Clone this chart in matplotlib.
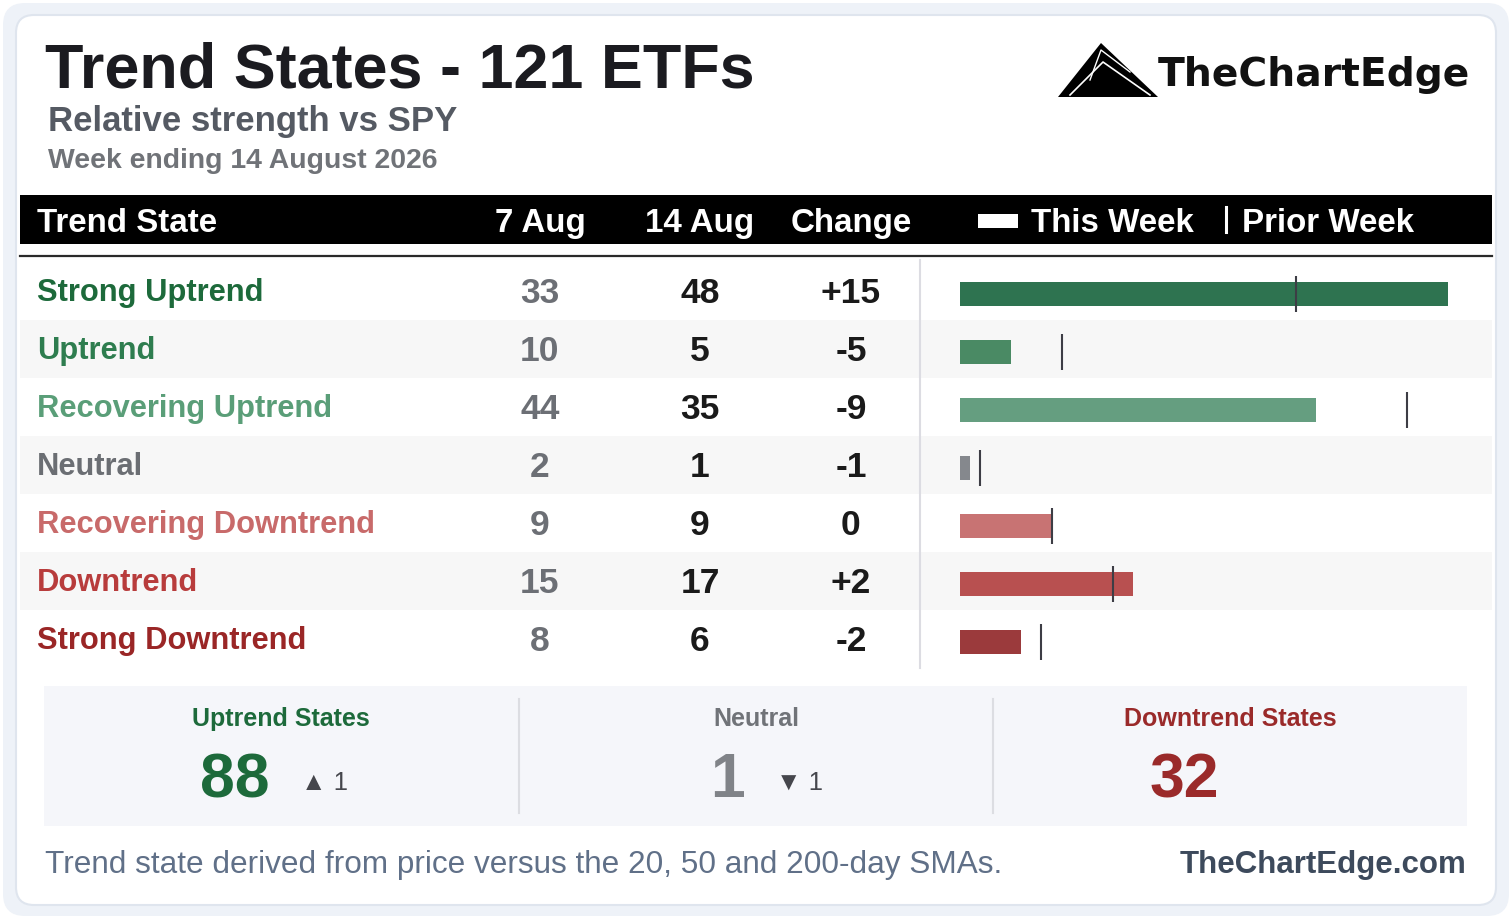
import matplotlib
matplotlib.use("Agg")
import matplotlib.pyplot as plt
from matplotlib.patches import FancyBboxPatch, Rectangle, Polygon

# ---------------- data ----------------
states = ["Strong Uptrend", "Uptrend", "Recovering Uptrend", "Neutral",
          "Recovering Downtrend", "Downtrend", "Strong Downtrend"]
prior_week = [33, 10, 44, 2, 9, 15, 8]     # 7 Aug
this_week = [48, 5, 35, 1, 9, 17, 6]       # 14 Aug
col_labels = ["Trend State", "7 Aug", "14 Aug", "Change"]
text_colors = ["#1d6a3b", "#2e7d4f", "#5a9e78", "#6b6e73",
               "#c86a6a", "#b83c3c", "#9a2626"]
bar_colors = ["#2e7350", "#4a8a64", "#659e80", "#85888d",
              "#c87373", "#b85050", "#9b3a3c"]
groups = ["Uptrend States", "Neutral", "Downtrend States"]
group_members = [[0, 1, 2], [3], [4, 5, 6]]
group_colors = ["#1d6a3b", "#707378", "#9a2a2a"]
group_num_colors = ["#1d6a3b", "#808388", "#9a2a2a"]

title = "Trend States - 121 ETFs"
subtitle = "Relative strength vs SPY"
week_line = "Week ending 14 August 2026"
footnote = "Trend state derived from price versus the 20, 50 and 200-day SMAs."
site = "TheChartEdge.com"
brand = "TheChartEdge"

# ---------------- figure ----------------
W, H = 1512, 919
fig = plt.figure(figsize=(W / 100, H / 100), dpi=100)
fig.patch.set_facecolor("white")
ax = fig.add_axes([0, 0, 1, 1])
ax.set_xlim(0, W)
ax.set_ylim(H, 0)
ax.axis("off")

FONT = ["Liberation Sans", "DejaVu Sans"]

# outer frame and card
ax.add_patch(FancyBboxPatch((3, 3), W - 6, H - 6, boxstyle="round,pad=0,rounding_size=22",
                            fc="#eef2f8", ec="none", zorder=0))
ax.add_patch(FancyBboxPatch((16, 15), 1480, 890, boxstyle="round,pad=0,rounding_size=18",
                            fc="white", ec="#dfe5ee", lw=1.5, zorder=1))

# titles
ax.text(45, 87, title, fontsize=45.3, fontweight="bold", color="#1b1b20",
        family=FONT, va="baseline", ha="left", zorder=5)
ax.text(48, 131, subtitle, fontsize=25, fontweight="bold", color="#555a63",
        family=FONT, va="baseline", ha="left", zorder=5)
ax.text(48, 168, week_line, fontsize=20.4, fontweight="bold", color="#707378",
        family=FONT, va="baseline", ha="left", zorder=5)

# logo
ax.add_patch(Polygon([(1058, 97), (1101, 43), (1158, 97)], closed=True,
                     fc="black", ec="none", zorder=5))
ax.plot([1070, 1103, 1150], [95, 62, 95], color="white", lw=1.2, zorder=6)
ax.plot([1090, 1101, 1130], [80, 50, 72], color="white", lw=1.0, zorder=6)
ax.text(1158, 86, brand, fontsize=28.3, fontweight="bold", color="#111111",
        family=["DejaVu Sans"], va="baseline", ha="left", zorder=5)

# header bar
ax.add_patch(Rectangle((20, 195), 1472, 49, fc="black", ec="none", zorder=2))
ax.plot([20, 1492], [256, 256], color="#2a2a2a", lw=1.6, zorder=3)
hdr_y = 232
HS = 23.9
ax.text(37, hdr_y, col_labels[0], fontsize=HS, fontweight="bold", color="white",
        family=FONT, va="baseline", ha="left", zorder=5)
for lab, cx in zip(col_labels[1:], [540, 700, 851]):
    ax.text(cx, hdr_y, lab, fontsize=HS, fontweight="bold", color="white",
            family=FONT, va="baseline", ha="center", zorder=5)
ax.add_patch(Rectangle((978, 214), 40, 14, fc="white", ec="none", zorder=5))
ax.text(1031, hdr_y, "This Week", fontsize=HS, fontweight="bold", color="white",
        family=FONT, va="baseline", ha="left", zorder=5)
ax.plot([1226, 1226], [207, 232], color="white", lw=2.2, zorder=5)
ax.text(1242, hdr_y, "Prior Week", fontsize=HS, fontweight="bold", color="white",
        family=FONT, va="baseline", ha="left", zorder=5)

# rows
row_top = 262
row_h = 58
n = len(states)
for i, (s, p, c) in enumerate(zip(states, prior_week, this_week)):
    top = row_top + i * row_h
    cy = top + row_h / 2
    if i % 2 == 1:
        ax.add_patch(Rectangle((20, top), 1472, row_h, fc="#f7f7f7", ec="none", zorder=2))
    ax.text(37, cy + 10, s, fontsize=22.2, fontweight="bold", color=text_colors[i],
            family=FONT, va="baseline", ha="left", zorder=5)
    ax.text(540, cy + 12, str(p), fontsize=25.5, fontweight="bold", color="#6c6f75",
            family=FONT, va="baseline", ha="center", zorder=5)
    ax.text(700, cy + 12, str(c), fontsize=25.5, fontweight="bold", color="#1a1a1a",
            family=FONT, va="baseline", ha="center", zorder=5)
    d = c - p
    dtxt = f"+{d}" if d > 0 else str(d)
    ax.text(851, cy + 12, dtxt, fontsize=25.5, fontweight="bold", color="#1a1a1a",
            family=FONT, va="baseline", ha="center", zorder=5)

ax.plot([920, 920], [260, 668], color="#dcdce2", lw=1.5, zorder=3)

# bar axes: x 960..1448 px, rows 262..668 px
xmax = max(max(this_week), max(prior_week))
bax = fig.add_axes([960 / W, 1 - (row_top + n * row_h) / H, 488 / W, n * row_h / H])
bax.set_xlim(0, xmax)
bax.set_ylim(n - 0.5, -0.5)
bax.axis("off")
bax.patch.set_alpha(0)
ypos = [i + 0.045 for i in range(n)]
bax.barh(ypos, this_week, height=0.41, color=bar_colors, zorder=3)
bax.vlines(prior_week, [y - 0.31 for y in ypos], [y + 0.31 for y in ypos],
           colors="#3d3d45", lw=1.5, zorder=4, clip_on=False)

# summary panel
ax.add_patch(Rectangle((44, 686), 1423, 140, fc="#f5f6fa", ec="none", zorder=2))
for x in [519, 993]:
    ax.plot([x, x], [699, 813], color="#dcdde2", lw=1.5, zorder=3)

label_cx = [281, 756, 1230]
num_cx = [235, 728, 1184]
delta_x = [301, 776, None]
for k, (g, mem) in enumerate(zip(groups, group_members)):
    cur = sum(this_week[i] for i in mem)
    prv = sum(prior_week[i] for i in mem)
    ax.text(label_cx[k], 726, g, fontsize=18, fontweight="bold", color=group_colors[k],
            family=FONT, va="baseline", ha="center", zorder=5)
    ax.text(num_cx[k], 797, str(cur), fontsize=45, fontweight="bold",
            color=group_num_colors[k], family=FONT, va="baseline", ha="center", zorder=5)
    d = cur - prv
    if d != 0 and delta_x[k] is not None:
        arrow = "\u25b2" if d > 0 else "\u25bc"
        ax.text(delta_x[k], 790, f"{arrow} {abs(d)}", fontsize=18.5, color="#45464c",
                family=FONT, va="baseline", ha="left", zorder=5)

# footer
ax.text(45, 873, footnote, fontsize=22.7, color="#607088", family=FONT,
        va="baseline", ha="left", zorder=5)
ax.text(1466, 873, site, fontsize=22.5, fontweight="bold", color="#3d4a5c",
        family=FONT, va="baseline", ha="right", zorder=5)

fig.savefig("out.png", dpi=100, facecolor=fig.get_facecolor())
